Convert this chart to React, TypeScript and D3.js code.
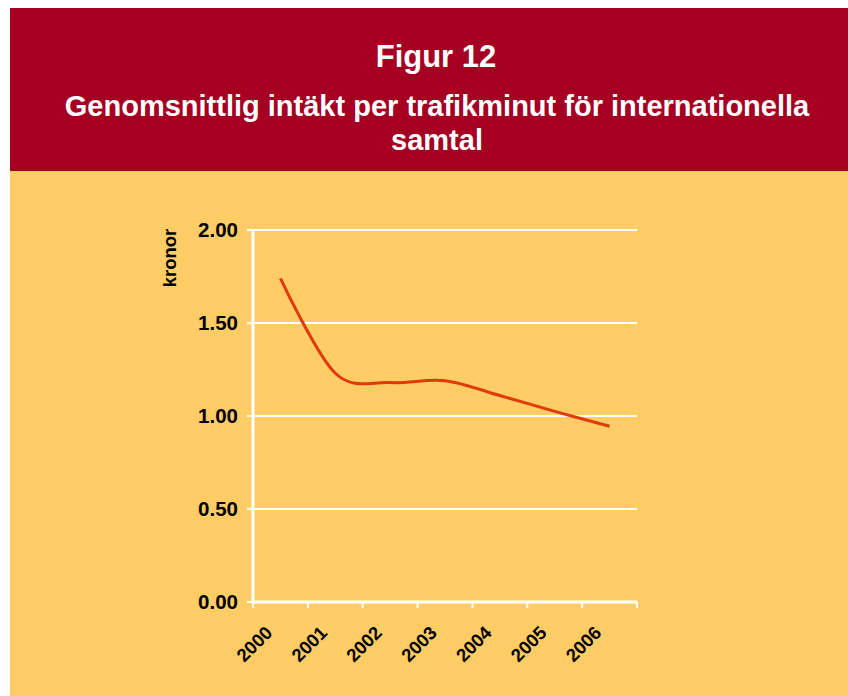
import React from "react";
import * as d3 from "d3";

const categories = ["2000", "2001", "2002", "2003", "2004", "2005", "2006"];
const values = [1.74, 1.23, 1.18, 1.19, 1.11, 1.025, 0.945];
const yTicks = [0, 0.5, 1, 1.5, 2];

export default function App() {
  const W = 848, H = 696;
  const left = 253, right = 637, top = 230, bottom = 602;
  const x = d3.scaleBand().domain(categories).range([left, right]);
  const y = d3.scaleLinear().domain([0, 2]).range([bottom, top]);
  const line = d3
    .line<number>()
    .x((_, i) => (x(categories[i]) as number) + x.bandwidth() / 2)
    .y((d) => y(d))
    .curve(d3.curveCardinal.tension(0));
  const font = "'Liberation Sans', Arial, sans-serif";
  const tickXs = categories.map((c) => x(c) as number).concat([right]);
  return (
    <svg width={W} height={H} style={{ position: "absolute", left: 0, top: 0 }} fontFamily={font}>
      <rect x={0} y={0} width={W} height={H} fill="#fff" />
      <rect x={10} y={8} width={W - 10} height={163} fill="#A50021" />
      <rect x={10} y={171} width={W - 10} height={H - 171} fill="#FFCC66" />
      <text x={436} y={67} textAnchor="middle" fill="#fff" fontWeight="bold" fontSize={31}>Figur 12</text>
      <text x={437} y={116} textAnchor="middle" fill="#fff" fontWeight="bold" fontSize={29}>Genomsnittlig intäkt per trafikminut för internationella</text>
      <text x={437} y={150} textAnchor="middle" fill="#fff" fontWeight="bold" fontSize={29}>samtal</text>
      {yTicks.map((t) => (
        <g key={t}>
          {t > 0 && <line x1={left} x2={right} y1={y(t)} y2={y(t)} stroke="#fff" strokeWidth={2} />}
          <line x1={left - 6} x2={left} y1={y(t)} y2={y(t)} stroke="#fff" strokeWidth={2} />
          <text x={238} y={y(t) + 7} textAnchor="end" fontWeight="bold" fontSize={20.5} fill="#000">{t.toFixed(2)}</text>
        </g>
      ))}
      <line x1={left} x2={left} y1={top} y2={bottom} stroke="#fff" strokeWidth={3} />
      <line x1={left} x2={right} y1={bottom} y2={bottom} stroke="#fff" strokeWidth={3} />
      {tickXs.map((tx, i) => (
        <line key={i} x1={tx} x2={tx} y1={bottom} y2={bottom + 6} stroke="#fff" strokeWidth={2} />
      ))}
      {categories.map((c) => {
        const cx = (x(c) as number) + x.bandwidth() / 2;
        return (
          <text key={c} transform={`translate(${cx - 7},${bottom + 32}) rotate(-45)`} textAnchor="end" fontWeight="bold" fontSize={18.5} fill="#000">{c}</text>
        );
      })}
      <text transform={`translate(176,258) rotate(-90)`} textAnchor="middle" fontWeight="bold" fontSize={18.5} fill="#000">kronor</text>
      <path d={line(values) || ""} fill="none" stroke="#E03A0A" strokeWidth={3} />
    </svg>
  );
}
